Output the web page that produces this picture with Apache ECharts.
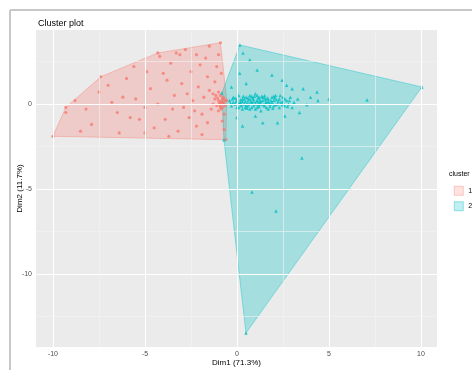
<!DOCTYPE html>
<html><head><meta charset="utf-8">
<script src="https://cdn.jsdelivr.net/npm/echarts@6/dist/echarts.min.js"></script>
<style>html,body{margin:0;padding:0;background:#fff}#c{width:472px;height:370px}</style>
</head><body><div id="c"></div>
<script>
const chartTitle = 'Cluster plot';
const xName = 'Dim1 (71.3%)';
const yName = 'Dim2 (11.7%)';
const clusterNames = ['1', '2'];
const xTicks = [-10, -5, 0, 5, 10];
const yTicks = [-10, -5, 0];
const xMinor = [-7.5, -2.5, 2.5, 7.5];
const yMinor = [-12.5, -7.5, -2.5, 2.5];

const cluster1 = [
  [-0.9,3.6],[-4.3,3.0],[-7.4,1.6],[-9.3,-0.2],[-10.0,-1.9],[-0.6,-2.1],[-0.55,0.2],
  [-9.3,-0.5],[-8.2,-0.3],[-7.5,0.7],[-6.5,-0.5],[-6.2,0.4],[-5.8,-0.8],[-5.3,-0.9],[-4.9,1.9],
  [-4.3,0.0],[-4.2,2.8],[-3.8,1.4],[-3.5,-0.3],[-3.1,2.9],[-2.7,0.6],[-2.6,-0.8],[-2.2,-1.3],
  [-2.0,2.3],[-1.6,1.6],[-1.3,0.0],[-1.5,3.4],[-8.8,0.2],[-7.9,-1.2],[-7.0,1.1],[-6.8,0.1],
  [-6.0,1.5],[-5.6,2.2],[-5.5,0.3],[-5.0,-0.2],[-4.7,0.9],[-4.5,-1.4],[-4.0,1.8],[-3.9,-0.9],
  [-3.6,2.4],[-3.4,0.5],[-3.2,-1.6],[-3.0,1.2],[-2.9,-0.2],[-2.8,3.2],[-2.5,1.9],[-2.4,0.2],
  [-2.3,-0.4],[-2.1,1.0],[-1.9,-0.6],[-1.8,0.4],[-1.7,2.7],[-1.6,-1.1],[-1.5,0.8],[-1.4,-0.3],
  [-1.2,1.3],[-1.2,0.3],[-1.1,-0.1],[-1.0,0.2],[-1.0,-0.4],[-0.9,0.1],[-0.9,0.5],[-0.8,-0.2],
  [-0.8,0.3],[-0.7,0.0],[-0.7,-0.6],[-0.65,0.2],[-0.85,1.8],[-0.7,-1.5],[-1.0,2.9],[-1.1,2.2],
  [-2.2,2.9],[-3.3,3.0],[-6.4,-1.7],[-8.5,-1.6],[-5.0,-1.7],[-3.7,-1.9],[-1.9,-1.8],[-0.8,-1.0],
  [-1.3,0.6],[-1.0,0.7],[-0.9,-0.2],[-0.75,0.4],[-0.85,-0.3],[-0.95,0.05],
  [-0.75,0.1],[-0.8,0.0],[-0.7,0.3],[-0.9,-0.1],[-1.05,0.35],[-0.65,-0.1],[-0.85,0.15],[-1.15,0.5]
];

const cluster2 = [
  [0.16,3.47],[-0.82,0.65],[-0.71,-2.1],[0.49,-13.47],[10.05,1.0],
  [-0.4,0.2],[-0.3,-0.1],[-0.2,0.4],[-0.1,0.0],[0.0,0.3],[0.1,-0.2],[0.1,0.5],[0.2,0.1],
  [0.3,-0.3],[0.3,0.3],[0.4,0.0],[0.5,0.4],[0.5,-0.1],[0.6,0.2],[0.7,-0.3],[0.7,0.5],
  [0.8,0.1],[0.9,-0.1],[0.9,0.3],[1.0,0.0],[1.0,0.6],[1.1,-0.2],[1.1,0.2],[1.2,0.4],
  [1.3,0.0],[1.3,-0.4],[1.4,0.2],[1.5,0.5],[1.5,-0.1],[1.6,0.1],[1.7,0.3],[1.7,-0.3],
  [1.8,0.0],[1.9,0.4],[2.0,-0.1],[2.0,0.2],[2.1,0.5],[2.2,0.0],[2.3,-0.2],[2.3,0.3],
  [2.4,0.1],[2.5,0.4],[2.6,-0.1],[2.7,0.2],[2.8,0.0],[2.9,0.4],[3.0,-0.2],[3.1,0.1],[3.3,0.3],
  [0.2,0.25],[0.45,0.15],[0.65,0.0],[0.85,0.35],[1.05,0.15],[1.25,0.25],[1.45,-0.05],
  [1.65,0.35],[1.85,0.2],[0.35,0.45],[0.55,-0.25],[0.75,0.15],[0.95,0.45],[1.15,-0.05],
  [1.35,0.45],[1.55,0.25],[1.75,0.05],[1.95,-0.25],[2.15,0.25],[2.35,0.5],[0.0,-0.2],
  [-0.2,0.1],[0.15,0.05],[0.6,0.35],[0.8,-0.2],[1.2,0.1],[1.6,-0.2],[2.05,0.35],[2.5,0.15],
  [2.75,-0.15],
  [-0.35,0.05],[-0.25,0.3],[-0.05,0.15],[0.05,0.05],[0.25,-0.1],[0.4,0.3],[0.6,-0.1],[0.7,0.3],
  [0.9,0.15],[1.0,-0.3],[1.15,0.35],[1.3,0.15],[1.4,0.4],[1.55,0.05],[1.7,0.15],[1.8,-0.15],
  [1.9,0.1],[2.1,-0.05],[2.25,0.15],[2.45,-0.05],[2.6,0.3],[2.85,0.2],[0.45,-0.2],[1.1,0.5],
  [0.3,0.15],[0.55,0.05],[0.8,0.45],[1.2,-0.15],[1.5,0.35],[2.0,0.45],[-0.1,0.35],[0.2,-0.05],
  [0.33,3.0],[0.7,2.6],[1.1,2.0],[0.15,1.8],[2.45,1.4],[2.7,1.1],[4.35,0.7],[4.0,0.4],
  [4.4,0.2],[3.8,-0.05],[3.4,-0.5],[1.4,-1.1],[2.2,-1.1],[0.3,-1.3],[7.07,0.24],[3.53,-3.18],
  [0.82,-5.18],[2.12,-6.29],[0.5,1.2],[1.9,1.7],[3.0,0.9],[-0.3,1.0],[0.0,-0.8],[1.0,-0.7],
  [2.6,-0.7],[3.6,0.9],[5.0,0.3]
];

const colors = ['#F8766D', '#00BFC4'];
const fills = ['rgba(248,118,109,0.27)', 'rgba(0,191,196,0.3)'];

function convexHull(points) {
  const p = points.slice().sort((a, b) => a[0] - b[0] || a[1] - b[1]);
  const cross = (o, a, b) => (a[0]-o[0])*(b[1]-o[1]) - (a[1]-o[1])*(b[0]-o[0]);
  const lower = [];
  for (const q of p) { while (lower.length >= 2 && cross(lower[lower.length-2], lower[lower.length-1], q) <= 0) lower.pop(); lower.push(q); }
  const upper = [];
  for (let i = p.length - 1; i >= 0; i--) { const q = p[i]; while (upper.length >= 2 && cross(upper[upper.length-2], upper[upper.length-1], q) <= 0) upper.pop(); upper.push(q); }
  upper.pop(); lower.pop();
  return lower.concat(upper);
}

function hullSeries(name, pts, fill, stroke) {
  const h = convexHull(pts);
  return {
    type: 'custom', name: name + ' hull', coordinateSystem: 'cartesian2d', silent: true, z: 1,
    data: [[0, 0]],
    renderItem: (params, api) => ({
      type: 'polygon',
      shape: { points: h.map(q => api.coord(q)) },
      style: { fill: fill, stroke: stroke, lineWidth: 0.4 }
    })
  };
}

const chart = echarts.init(document.getElementById('c'));
const lab = { color: '#4D4D4D', fontSize: 7, fontFamily: 'Liberation Sans' };

chart.setOption({
  animation: false,
  backgroundColor: '#fff',
  title: { text: chartTitle, left: 33, top: 14, textStyle: { fontSize: 9, fontWeight: 'normal', color: '#000', fontFamily: 'Liberation Sans' } },
  grid: { left: 36, top: 30, right: 35, bottom: 23, show: true, backgroundColor: '#EBEBEB', borderWidth: 0,
          containLabel: false, outerBoundsMode: 'none' },
  legend: {
    orient: 'vertical', left: 449, top: 181, itemWidth: 9, itemHeight: 9, itemGap: 6,
    textStyle: { fontSize: 7, color: '#000', fontFamily: 'Liberation Sans' },
    data: [
      { name: clusterNames[0], icon: 'rect', itemStyle: { color: fills[0], borderColor: colors[0], borderWidth: 0.5 } },
      { name: clusterNames[1], icon: 'rect', itemStyle: { color: fills[1], borderColor: colors[1], borderWidth: 0.5 } }
    ]
  },
  graphic: [
    { type: 'text', left: 449, top: 171, style: { text: 'cluster', fontSize: 7, fill: '#000', fontFamily: 'Liberation Sans' } },
    { type: 'line', shape: { x1: 10, y1: 10, x2: 472, y2: 10 }, style: { stroke: '#C8C8C8', lineWidth: 2 } },
    { type: 'line', shape: { x1: 10, y1: 10, x2: 10, y2: 370 }, style: { stroke: '#C8C8C8', lineWidth: 2 } }
  ],
  xAxis: {
    type: 'value', min: -10.92, max: 10.87,
    name: xName, nameLocation: 'middle', nameGap: 12, nameMoveOverlap: false,
    nameTextStyle: { fontSize: 8, color: '#000', fontFamily: 'Liberation Sans', verticalAlign: 'top' },
    axisLine: { show: false },
    axisTick: { show: true, length: 2, customValues: xTicks, lineStyle: { color: '#333' } },
    axisLabel: Object.assign({ margin: 4, customValues: xTicks }, lab),
    splitLine: { show: false }
  },
  yAxis: {
    type: 'value', min: -14.29, max: 4.35,
    name: yName, nameLocation: 'middle', nameGap: 12, nameMoveOverlap: false,
    nameTextStyle: { fontSize: 8, color: '#000', fontFamily: 'Liberation Sans' },
    axisLine: { show: false },
    axisTick: { show: true, length: 2, customValues: yTicks, lineStyle: { color: '#333' } },
    axisLabel: Object.assign({ margin: 4, customValues: yTicks }, lab),
    splitLine: { show: false }
  },
  series: [
    {
      type: 'scatter', name: 'grid', data: [], silent: true, z: 0,
      markLine: {
        silent: true, symbol: 'none', label: { show: false }, animation: false,
        lineStyle: { color: '#fff', type: 'solid', width: 1 },
        data: xTicks.map(v => ({ xAxis: v })).concat(yTicks.map(v => ({ yAxis: v })))
          .concat(xMinor.map(v => ({ xAxis: v, lineStyle: { color: '#F4F4F4', width: 0.6 } })))
          .concat(yMinor.map(v => ({ yAxis: v, lineStyle: { color: '#F4F4F4', width: 0.6 } })))
      }
    },
    hullSeries(clusterNames[0], cluster1, fills[0], colors[0]),
    hullSeries(clusterNames[1], cluster2, fills[1], colors[1]),
    { type: 'scatter', name: clusterNames[0], data: cluster1, symbol: 'circle', symbolSize: 3.2, z: 3,
      itemStyle: { color: colors[0], opacity: 0.75 } },
    { type: 'scatter', name: clusterNames[1], data: cluster2, symbol: 'triangle', symbolSize: 3.5, z: 3,
      itemStyle: { color: colors[1], opacity: 0.8 } }
  ]
});
</script>
</body></html>
